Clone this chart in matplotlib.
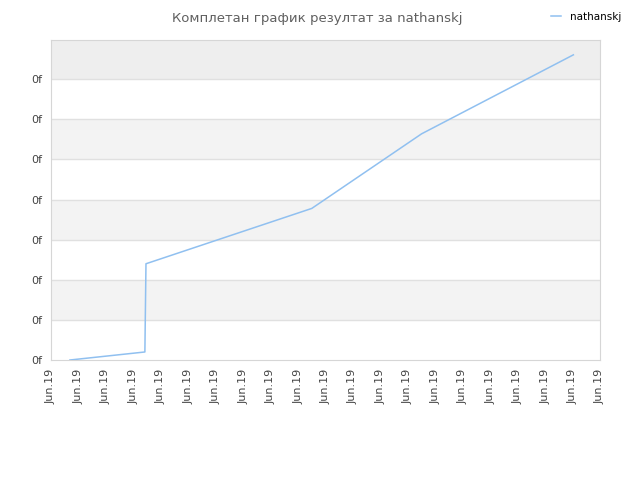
import numpy as np
import matplotlib.pyplot as plt

# Datos (x en indices de marca, y en unidades de rejilla).
puntosX = [0.69, 3.42, 3.46, 9.5, 13.5, 19.03]
puntosY = [0.0, 0.2, 2.4, 3.78, 5.64, 7.61]
etiquetasX = ['Jun.19'] * 21
etiquetasY = ['0f'] * 8
titulo = 'Комплетан график резултат за nathanskj'
serie = 'nathanskj'

fig = plt.figure(figsize=(6.4, 4.8), dpi=100)
ax = fig.add_axes([51/640, 1-360/480, 549/640, 320/480])

# Bandas alternas de fondo.
for inicio in [1, 3, 5]:
    ax.axhspan(inicio, inicio + 1, color='#f3f3f3', zorder=0, lw=0)
ax.axhspan(7, 8, color='#eeeeee', zorder=0, lw=0)
for yy in range(1, 8):
    ax.axhline(yy, color='#e0e0e0', lw=1, zorder=1)

ax.plot(puntosX, puntosY, color='#90c0f0', lw=1.1, zorder=3, label=serie)

ax.set_xlim(0, 20)
ax.set_ylim(0, 7.98)
ax.set_xticks(np.arange(len(etiquetasX)))
ax.set_xticklabels(etiquetasX, rotation=90, fontsize=8, color='#444444')
ax.set_yticks(np.arange(len(etiquetasY)))
ax.set_yticklabels(etiquetasY, fontsize=8, color='#444444')
ax.tick_params(length=0, pad=6)
for lado in ax.spines.values():
    lado.set_color('#d6d6d6')

fig.text(0.495, 0.975, titulo, ha='center', va='top', fontsize=9.5, color='#606060')
fig.legend(loc='upper right', bbox_to_anchor=(0.985, 0.995), frameon=False,
           fontsize=7.5, handlelength=1.0, handletextpad=0.8)

fig.savefig('out.png', dpi=100)
